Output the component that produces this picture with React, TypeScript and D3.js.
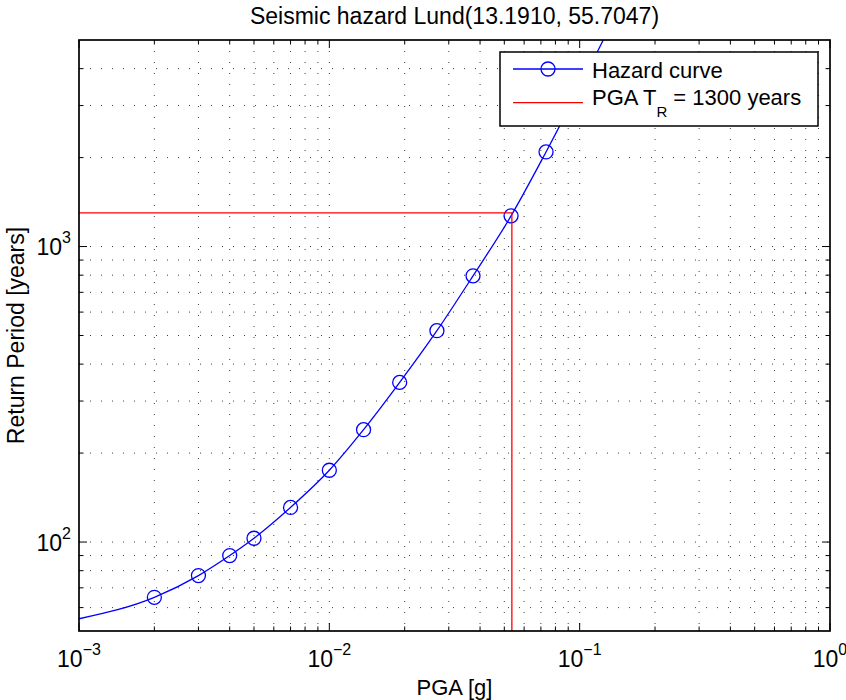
import React, { useEffect } from "react";
import * as d3 from "d3";

const W = 846;
const H = 700;
const M = { left: 79, right: 830, top: 40, bottom: 631 };

const xDomain: [number, number] = [0.001, 1];
const yDomain: [number, number] = [50, 5000];

const xMajor = [0.001, 0.01, 0.1, 1];
const xMajorExp = ["−3", "−2", "−1", "0"];
const yMajor = [100, 1000];
const yMajorExp = ["2", "3"];

const markerPGA = [0.002, 0.003, 0.004, 0.005, 0.007, 0.01, 0.0137, 0.0191, 0.0269, 0.0375, 0.0532, 0.0734];
const markerTR = [65, 77, 90, 103, 131, 175, 240, 347, 519, 796, 1270, 2090];

const curveStartPGA = [0.001];
const curveStartTR = [55];
const curveEndPGA = [0.13];
const curveEndTR = [5400];

const targetTR = 1300;
const pgaAtTarget = 0.0536;

const title = "Seismic hazard Lund(13.1910, 55.7047)";
const xLabel = "PGA [g]";
const yLabel = "Return Period [years]";
const legendLabels = ["Hazard curve", "PGA T", "R", " = 1300 years"];

const FONT = "'Liberation Sans', Arial, Helvetica, sans-serif";

export default function App() {
  useEffect(() => {
    document.body.style.margin = "0";
  }, []);

  const x = d3.scaleLog().domain(xDomain).range([M.left, M.right]);
  const y = d3.scaleLog().domain(yDomain).range([M.bottom, M.top]);

  const xMinor: number[] = [];
  [-3, -2, -1].forEach((e) => {
    for (let k = 2; k <= 9; k++) xMinor.push(k * Math.pow(10, e));
  });
  const yMinor: number[] = [];
  [1, 2, 3].forEach((e) => {
    for (let k = 2; k <= 9; k++) {
      const v = k * Math.pow(10, e);
      if (v > yDomain[0] && v < yDomain[1]) yMinor.push(v);
    }
  });
  const xGrid = [...xMajor.slice(1, -1), ...xMinor];
  const yGrid = [...yMajor, ...yMinor];

  const curvePts: [number, number][] = [
    ...curveStartPGA.map((v, i) => [v, curveStartTR[i]] as [number, number]),
    ...markerPGA.map((v, i) => [v, markerTR[i]] as [number, number]),
    ...curveEndPGA.map((v, i) => [v, curveEndTR[i]] as [number, number]),
  ];
  const line = d3
    .line<[number, number]>()
    .x((d) => x(d[0]))
    .y((d) => y(d[1]))
    .curve(d3.curveMonotoneX);

  const gridStyle = { stroke: "#000", strokeWidth: 1, strokeDasharray: "1,10", opacity: 0.75 };
  const majorLen = 8;
  const minorLen = 4.5;

  const lgX = 500, lgY = 52, lgW = 318, lgH = 74;

  return (
    <div style={{ position: "absolute", left: 0, top: 0 }}>
      <svg width={W} height={H} style={{ display: "block", background: "#fff" }} fontFamily={FONT}>
        <defs>
          <clipPath id="plotClip">
            <rect x={M.left} y={M.top} width={M.right - M.left} height={M.bottom - M.top} />
          </clipPath>
        </defs>
        <rect x={0} y={0} width={W} height={H} fill="#fff" />
        {/* grid */}
        <g>
          {xGrid.map((v, i) => (
            <line key={"gx" + i} x1={x(v)} x2={x(v)} y1={M.top} y2={M.bottom} {...gridStyle} />
          ))}
          {yGrid.map((v, i) => (
            <line key={"gy" + i} x1={M.left} x2={M.right} y1={y(v)} y2={y(v)} {...gridStyle} />
          ))}
        </g>
        {/* ticks */}
        <g stroke="#000" strokeWidth={1}>
          {xMajor.map((v, i) => (
            <g key={"xt" + i}>
              <line x1={x(v)} x2={x(v)} y1={M.bottom} y2={M.bottom - majorLen} />
              <line x1={x(v)} x2={x(v)} y1={M.top} y2={M.top + majorLen} />
            </g>
          ))}
          {xMinor.map((v, i) => (
            <g key={"xm" + i}>
              <line x1={x(v)} x2={x(v)} y1={M.bottom} y2={M.bottom - minorLen} />
              <line x1={x(v)} x2={x(v)} y1={M.top} y2={M.top + minorLen} />
            </g>
          ))}
          {yMajor.map((v, i) => (
            <g key={"yt" + i}>
              <line x1={M.left} x2={M.left + majorLen} y1={y(v)} y2={y(v)} />
              <line x1={M.right} x2={M.right - majorLen} y1={y(v)} y2={y(v)} />
            </g>
          ))}
          {yMinor.map((v, i) => (
            <g key={"ym" + i}>
              <line x1={M.left} x2={M.left + minorLen} y1={y(v)} y2={y(v)} />
              <line x1={M.right} x2={M.right - minorLen} y1={y(v)} y2={y(v)} />
            </g>
          ))}
        </g>
        {/* data */}
        <g clipPath="url(#plotClip)">
          <path d={line(curvePts) || ""} fill="none" stroke="#0000ff" strokeWidth={1.3} />
          {markerPGA.map((v, i) => (
            <circle key={"m" + i} cx={x(v)} cy={y(markerTR[i])} r={7} fill="none" stroke="#0000ff" strokeWidth={1.3} />
          ))}
          <polyline
            points={`${x(xDomain[0])},${y(targetTR)} ${x(pgaAtTarget)},${y(targetTR)} ${x(pgaAtTarget)},${y(yDomain[0])}`}
            fill="none"
            stroke="#ff0000"
            strokeWidth={1.3}
          />
        </g>
        {/* axes box */}
        <rect x={M.left} y={M.top} width={M.right - M.left} height={M.bottom - M.top} fill="none" stroke="#000" strokeWidth={1.7} />
        {/* tick labels */}
        <g fill="#000">
          {xMajor.map((v, i) => (
            <text key={"xl" + i} x={x(v)} y={667} textAnchor="middle" fontSize={23}>
              10<tspan fontSize={16} dy={-12}>{xMajorExp[i]}</tspan>
            </text>
          ))}
          {yMajor.map((v, i) => (
            <text key={"yl" + i} x={71} y={y(v) + 8.5} textAnchor="end" fontSize={23}>
              10<tspan fontSize={16} dy={-12}>{yMajorExp[i]}</tspan>
            </text>
          ))}
        </g>
        {/* titles */}
        <text x={(M.left + M.right) / 2} y={23.5} textAnchor="middle" fontSize={23} fill="#000">
          {title}
        </text>
        <text x={(M.left + M.right) / 2} y={695} textAnchor="middle" fontSize={22} fill="#000">
          {xLabel}
        </text>
        <text transform={`translate(24,${(M.top + M.bottom) / 2}) rotate(-90)`} textAnchor="middle" fontSize={23} fill="#000">
          {yLabel}
        </text>
        {/* legend */}
        <g>
          <rect x={lgX} y={lgY} width={lgW} height={lgH} fill="#fff" stroke="#000" strokeWidth={1.5} />
          <line x1={513} x2={583} y1={69} y2={69} stroke="#0000ff" strokeWidth={1.3} />
          <circle cx={548} cy={69} r={7} fill="none" stroke="#0000ff" strokeWidth={1.3} />
          <text x={592} y={78} fontSize={22} fill="#000">{legendLabels[0]}</text>
          <line x1={513} x2={583} y1={102.7} y2={102.7} stroke="#ff0000" strokeWidth={1.3} />
          <text x={592} y={105} fontSize={22} fill="#000">
            {legendLabels[1]}
            <tspan fontSize={15} dy={12}>{legendLabels[2]}</tspan>
            <tspan dy={-12}>{legendLabels[3]}</tspan>
          </text>
        </g>
      </svg>
    </div>
  );
}
